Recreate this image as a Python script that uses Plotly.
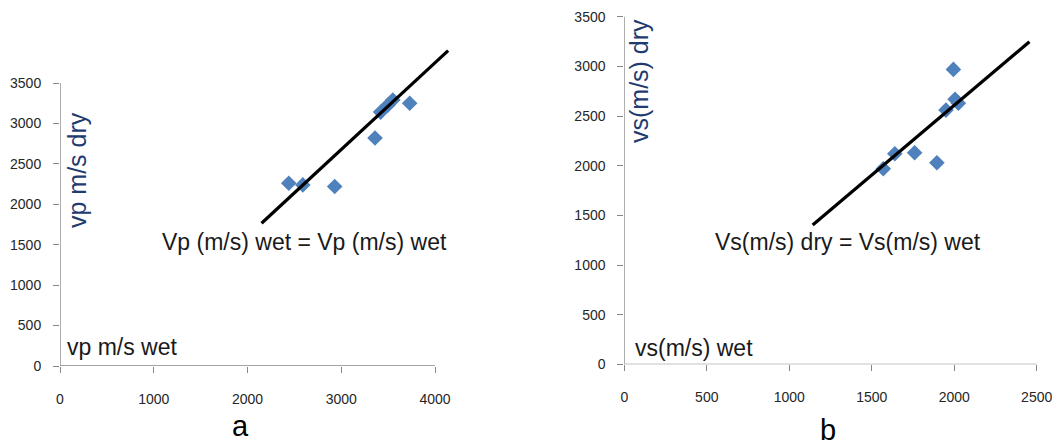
import plotly.graph_objects as go

# ---- data ----
vp_wet = [2440, 2590, 2930, 3360, 3420, 3500, 3550, 3730]
vp_dry = [2260, 2240, 2220, 2820, 3140, 3230, 3290, 3250]
vp_line_x = [2150, 4140]
vp_line_y = [1765, 3900]

vs_wet = [1570, 1640, 1760, 1895, 1950, 1995, 2005, 2025]
vs_dry = [1970, 2120, 2130, 2030, 2560, 2970, 2670, 2630]
vs_line_x = [1142, 2456]
vs_line_y = [1403, 3249]

vp_xticks = [0, 1000, 2000, 3000, 4000]
vs_xticks = [0, 500, 1000, 1500, 2000, 2500]
yticks = [0, 500, 1000, 1500, 2000, 2500, 3000, 3500]

W, H = 1057, 448
MARK = "#4F81BD"
AX = "#868686"
TICKFONT = dict(family="Liberation Sans, Arial", size=14, color="#262626")
TITLEC = "#1F3B70"

fig = go.Figure()

fig.add_trace(go.Scatter(x=vp_wet, y=vp_dry, mode="markers",
                         marker=dict(symbol="diamond", size=12, color=MARK),
                         xaxis="x", yaxis="y", showlegend=False, cliponaxis=False))
fig.add_trace(go.Scatter(x=vp_line_x, y=vp_line_y, mode="lines",
                         line=dict(color="black", width=3.2),
                         xaxis="x", yaxis="y", showlegend=False))
fig.add_trace(go.Scatter(x=vs_wet, y=vs_dry, mode="markers",
                         marker=dict(symbol="diamond", size=12, color=MARK),
                         xaxis="x2", yaxis="y2", showlegend=False, cliponaxis=False))
fig.add_trace(go.Scatter(x=vs_line_x, y=vs_line_y, mode="lines",
                         line=dict(color="black", width=3.2),
                         xaxis="x2", yaxis="y2", showlegend=False))

def px_x(p):
    return p / W

def px_y(p):
    return (H - p) / H

common_x = dict(showgrid=False, zeroline=False, showline=False, ticks="outside",
                ticklen=6, tickcolor=AX, tickwidth=1, tickfont=TICKFONT,
                ticklabelstandoff=14, fixedrange=True, automargin=False)
common_y = dict(showgrid=False, zeroline=False, showline=False, ticks="outside",
                ticklen=6, tickcolor=AX, tickwidth=1, tickfont=TICKFONT,
                ticklabelstandoff=9, tickvals=yticks, fixedrange=True, automargin=False)

fig.update_layout(
    width=W, height=H,
    margin=dict(l=0, r=0, t=0, b=0, autoexpand=False),
    paper_bgcolor="white", plot_bgcolor="white",
    xaxis=dict(domain=[px_x(60), px_x(450)], range=[0, 4160],
               tickvals=vp_xticks, anchor="y", **common_x),
    yaxis=dict(domain=[px_y(366), px_y(45)], range=[0, 3970], anchor="x", **common_y),
    xaxis2=dict(domain=[px_x(624.3), px_x(1040)], range=[0, 2520],
                tickvals=vs_xticks, anchor="y2", **common_x),
    yaxis2=dict(domain=[px_y(364.3), px_y(14)], range=[0, 3528], anchor="x2", **common_y),
)

# axis lines (stopping at last tick, as in the reference)
line_style = dict(color=AX, width=1.3)
fig.add_shape(type="line", xref="x", yref="y", x0=0, x1=4000, y0=0, y1=0, line=line_style)
fig.add_shape(type="line", xref="x", yref="y", x0=0, x1=0, y0=0, y1=3500, line=line_style)
fig.add_shape(type="line", xref="x2", yref="y2", x0=0, x1=2500, y0=0, y1=0, line=line_style)
fig.add_shape(type="line", xref="x2", yref="y2", x0=0, x1=0, y0=0, y1=3500, line=line_style)

TXT = dict(family="Liberation Sans, Arial", size=23, color="#1a1a1a")
ann = [
    dict(text="vp m/s dry", x=px_x(77), y=px_y(170), textangle=-90,
         font=dict(family="Liberation Sans, Arial", size=25, color=TITLEC)),
    dict(text="vp m/s wet", x=px_x(122), y=px_y(347), font=TXT),
    dict(text="Vp (m/s) wet = Vp (m/s) wet", x=px_x(304), y=px_y(242), font=TXT),
    dict(text="vs(m/s) dry", x=px_x(639), y=px_y(81), textangle=-90,
         font=dict(family="Liberation Sans, Arial", size=25, color=TITLEC)),
    dict(text="vs(m/s) wet", x=px_x(694), y=px_y(348), font=TXT),
    dict(text="Vs(m/s) dry = Vs(m/s) wet", x=px_x(848), y=px_y(242), font=TXT),
    dict(text="a", x=px_x(240), y=px_y(426),
         font=dict(family="Liberation Sans, Arial", size=29, color="black")),
    dict(text="b", x=px_x(828), y=px_y(430),
         font=dict(family="Liberation Sans, Arial", size=29, color="black")),
]
for a in ann:
    fig.add_annotation(xref="paper", yref="paper", showarrow=False,
                       xanchor="center", yanchor="middle", **a)

fig.write_html("out.html")
